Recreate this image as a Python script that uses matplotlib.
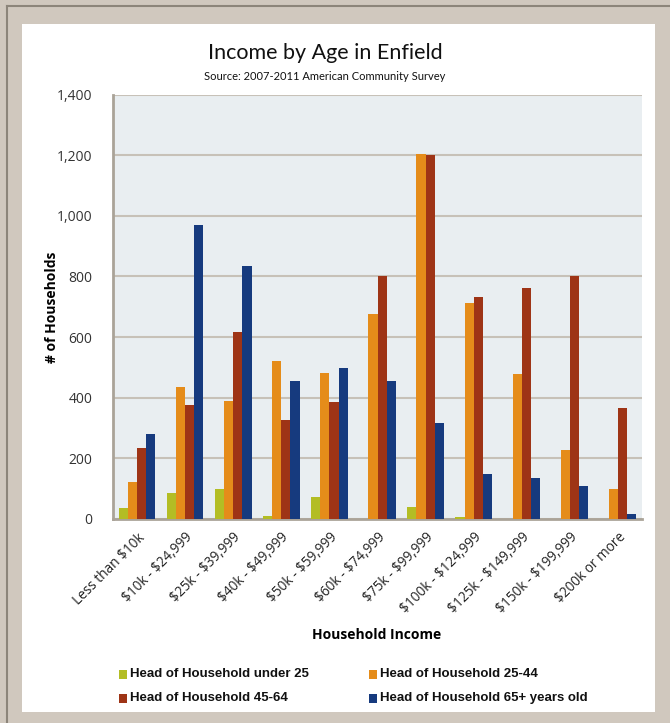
import matplotlib
matplotlib.use("Agg")
import matplotlib.pyplot as plt
import numpy as np
from matplotlib.patches import Rectangle
from matplotlib.lines import Line2D

plt.rcParams["text.parse_math"] = False

categories = ["Less than $10k", "$10k - $24,999", "$25k - $39,999", "$40k - $49,999",
              "$50k - $59,999", "$60k - $74,999", "$75k - $99,999", "$100k - $124,999",
              "$125k - $149,999", "$150k - $199,999", "$200k or more"]
under25 = [36, 86, 98, 9, 72, 0, 40, 8, 0, 0, 0]
age25_44 = [122, 436, 389, 521, 482, 676, 1203, 713, 478, 228, 98]
age45_64 = [234, 377, 618, 328, 386, 802, 1199, 732, 762, 802, 365]
age65 = [280, 968, 834, 455, 497, 456, 316, 147, 134, 109, 17]
series_names = ["Head of Household under 25", "Head of Household 25-44",
                "Head of Household 45-64", "Head of Household 65+ years old"]
yticks = [0, 200, 400, 600, 800, 1000, 1200, 1400]
ytick_labels = ["0", "200", "400", "600", "800", "1,000", "1,200", "1,400"]

colors = ["#b3bd24", "#e58c1a", "#9e3416", "#163a7e"]

W, H = 670, 723
fig = plt.figure(figsize=(W / 100, H / 100), dpi=100)
fig.patch.set_facecolor("#d0c8be")

def fx(x):
    return x / W

def fy(y):
    return 1 - y / H

# dark frame lines
fig.add_artist(Line2D([fx(7), fx(7)], [fy(6), 0], color="#8c857a", lw=1.5, transform=fig.transFigure))
fig.add_artist(Line2D([fx(7), 1], [fy(6), fy(6)], color="#8c857a", lw=1.5, transform=fig.transFigure))
# white panel
fig.add_artist(Rectangle((fx(22), fy(712)), fx(655) - fx(22), fy(24) - fy(712),
                         facecolor="white", edgecolor="none", transform=fig.transFigure, zorder=0))

ax = fig.add_axes([fx(113), fy(519), fx(642) - fx(113), fy(94.5) - fy(519)])
ax.set_facecolor("#e9eef1")

x = np.arange(len(categories))
bw = 0.19
series = [under25, age25_44, age45_64, age65]
for i, (vals, c, name) in enumerate(zip(series, colors, series_names)):
    ax.bar(x + (i - 1.5) * bw, vals, width=bw, color=c, label=name, zorder=3,
           edgecolor="none")

ax.set_xlim(-0.5, len(categories) - 0.5)
ax.set_ylim(0, 1400)
ax.set_yticks(yticks)
ax.set_yticklabels(ytick_labels, fontsize=10, color="#333333", family="Open Sans")
ax.yaxis.grid(True, color="#c7c1b8", lw=1.5, zorder=0)
ax.set_axisbelow(True)
ax.tick_params(axis="both", length=0)
ax.tick_params(axis="y", pad=15)
ax.set_xticks(x)
ax.set_xticklabels(categories, rotation=45, ha="right", rotation_mode="anchor",
                   fontsize=9.8, color="#222222", family="Open Sans")
ax.tick_params(axis="x", pad=8)
for s in ["top", "right"]:
    ax.spines[s].set_visible(False)
for s in ["left", "bottom"]:
    ax.spines[s].set_color("#aaa398")
    ax.spines[s].set_linewidth(2)

fig.text(fx(52), fy(307), "# of Households", rotation=90, ha="center", va="center",
         fontsize=10, fontweight="bold", family="Open Sans")

fig.text(fx(377), fy(635), "Household Income", ha="center", va="center",
         fontsize=10, fontweight="bold", family="Open Sans")

fig.text(fx(325), fy(53), "Income by Age in Enfield", ha="center", va="center",
         fontsize=15.5, family="Lato", color="#111111")
fig.text(fx(325), fy(76), "Source: 2007-2011 American Community Survey", ha="center", va="center",
         fontsize=8, family="Lato", color="#111111")

# legend
leg_pos = [(120, 674), (370, 674), (120, 698), (370, 698)]
for (lx, ly), c, name in zip(leg_pos, colors, series_names):
    fig.add_artist(Rectangle((fx(lx - 1), fy(ly + 4.5)), fx(8), fy(0) - fy(9), facecolor=c,
                             edgecolor="none", transform=fig.transFigure))
    fig.text(fx(lx + 10), fy(ly), name, ha="left", va="center", fontsize=9.5,
             fontweight="bold", family="Liberation Sans", color="#111111")

fig.savefig("out.png", dpi=100, facecolor=fig.get_facecolor())
